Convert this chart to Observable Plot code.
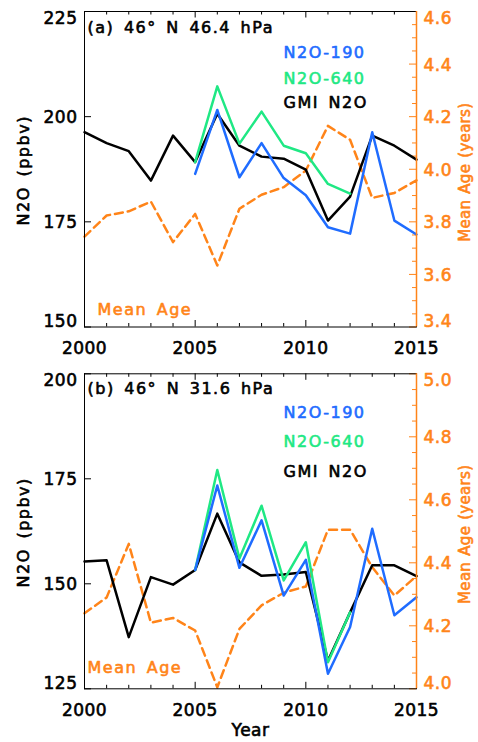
<!DOCTYPE html>
<html>
<head>
<meta charset="utf-8">
<script src="https://cdn.jsdelivr.net/npm/d3@7"></script>
<script src="https://cdn.jsdelivr.net/npm/@observablehq/plot@0.6"></script>
<style>
  body { margin: 0; background: #fff; }
  #chart { width: 478px; }
  #chart svg { display: block; overflow: visible; }
  #chart g[font-size="17"] text { letter-spacing: 0.5px; }
  #chart g[font-size="16"] text { letter-spacing: 1.5px; word-spacing: 3px; }
  #chart g[font-size="15"] text { letter-spacing: 0.3px; word-spacing: 1px; }
</style>
</head>
<body>
<div id="chart"></div>
<script>
// ---------- data ----------
const yearsAll = [2000, 2001, 2002, 2003, 2004, 2005, 2006, 2007, 2008, 2009, 2010, 2011, 2012, 2013, 2014, 2015];
const years190 = [2005, 2006, 2007, 2008, 2009, 2010, 2011, 2012, 2013, 2014, 2015];
const years640 = [2005, 2006, 2007, 2008, 2009, 2010, 2011, 2012];

// Panel (a) 46N 46.4 hPa
const gmiA  = [196.3, 193.7, 191.8, 184.8, 195.5, 189.2, 200.7, 193.1, 190.5, 190.0, 187.4, 175.3, 181.0, 195.5, 193.1, 189.8];
const n190A = [186.4, 201.6, 185.6, 193.7, 185.4, 181.3, 173.7, 172.2, 196.3, 175.3, 172.0];
const n640A = [189.2, 207.2, 193.6, 201.2, 193.1, 191.3, 184.0, 181.7];
const ageA  = [3.744, 3.824, 3.840, 3.877, 3.723, 3.830, 3.634, 3.850, 3.903, 3.932, 3.995, 4.165, 4.112, 3.891, 3.910, 3.958];

// Panel (b) 46N 31.6 hPa
const gmiB  = [155.3, 155.6, 137.3, 151.6, 149.8, 153.3, 166.7, 155.1, 151.9, 152.2, 152.8, 131.7, 143.2, 154.4, 154.4, 151.8];
const n190B = [153.3, 173.4, 153.8, 165.1, 147.2, 155.7, 128.6, 139.7, 163.1, 142.5, 146.8];
const n640B = [153.3, 177.1, 156.0, 168.6, 150.8, 159.9, 131.3, 143.2];
const ageB  = [4.240, 4.290, 4.460, 4.210, 4.225, 4.185, 4.005, 4.190, 4.265, 4.305, 4.325, 4.505, 4.505, 4.386, 4.296, 4.358];

// ticks
const xMajorTicks = [2000, 2005, 2010, 2015];
const xMinorTicks = [2001, 2002, 2003, 2004, 2006, 2007, 2008, 2009, 2011, 2012, 2013, 2014];
const yTicksA = [150, 175, 200, 225];
const ageTicksA = [3.4, 3.6, 3.8, 4.0, 4.2, 4.4, 4.6];
const ageMinorA = [3.45, 3.5, 3.55, 3.65, 3.7, 3.75, 3.85, 3.9, 3.95, 4.05, 4.1, 4.15, 4.25, 4.3, 4.35, 4.45, 4.5, 4.55];
const yTicksB = [125, 150, 175, 200];
const ageTicksB = [4.0, 4.2, 4.4, 4.6, 4.8, 5.0];
const ageMinorB = [4.05, 4.1, 4.15, 4.25, 4.3, 4.35, 4.45, 4.5, 4.55, 4.65, 4.7, 4.75, 4.85, 4.9, 4.95];

// labels
const titleA = "(a) 46° N 46.4 hPa";
const titleB = "(b) 46° N 31.6 hPa";
const legendLabels = ["N2O-190", "N2O-640", "GMI N2O"];
const yLabel = "N2O (ppbv)";
const ageLabel = "Mean Age (years)";
const ageNote = "Mean Age";
const xLabel = "Year";

// colours
const ORANGE = "#ff8419";
const BLUE = "#1f6cff";
const GREEN = "#1fe884";
const BLACK = "#000000";

function panel(cfg) {
  const W = 478, mL = 84, mR = 62;
  const plotW = W - mL - mR;
  const plotH = cfg.height - cfg.marginTop - cfg.marginBottom;
  const [y0, y1] = cfg.yDom, [a0, a1] = cfg.ageDom;
  const toY = a => y0 + (a - a0) / (a1 - a0) * (y1 - y0);
  const fmtAge = a => a.toFixed(1);
  const TS = 0.6; // text emboldening stroke

  const zip = (xs, ys) => xs.map((x, i) => ({x, y: ys[i]}));
  const ageData = yearsAll.map((x, i) => ({x, y: toY(cfg.age[i])}));

  const yT = cfg.yTicks, aT = cfg.ageTicks;
  const yInner = yT.slice(1, -1), aInner = aT.slice(1, -1);
  const txt = (data, opts, col) => Plot.text(data, {...opts, fill: col, stroke: col, strokeWidth: TS});

  const marks = [
    // ticks (inward)
    Plot.tickX(xMinorTicks, {x: d => d, insetTop: plotH - 3.5, stroke: BLACK}),
    Plot.tickX(xMinorTicks, {x: d => d, insetBottom: plotH - 3.5, stroke: BLACK}),
    Plot.tickX(xMajorTicks, {x: d => d, insetTop: plotH - 6.5, stroke: BLACK}),
    Plot.tickX(xMajorTicks, {x: d => d, insetBottom: plotH - 6.5, stroke: BLACK}),
    Plot.tickY(yT, {y: d => d, insetRight: plotW - 7, stroke: BLACK}),
    Plot.tickY(aT, {y: d => toY(d), insetLeft: plotW - 7, stroke: ORANGE}),
    Plot.tickY(cfg.ageMinor, {y: d => toY(d), insetLeft: plotW - 4, stroke: ORANGE}),
    // data
    Plot.line(ageData, {x: "x", y: "y", stroke: ORANGE, strokeWidth: 2.5, strokeDasharray: "8,5"}),
    Plot.line(zip(yearsAll, cfg.gmi), {x: "x", y: "y", stroke: BLACK, strokeWidth: 2.5}),
    Plot.line(zip(years640, cfg.n640), {x: "x", y: "y", stroke: GREEN, strokeWidth: 2.5}),
    Plot.line(zip(years190, cfg.n190), {x: "x", y: "y", stroke: BLUE, strokeWidth: 2.5}),
    // frame
    Plot.frame({stroke: BLACK, strokeWidth: 1}),
    Plot.ruleX([2015], {stroke: ORANGE, strokeWidth: 1.5}),
    // left tick labels
    txt(yInner, {y: d => d, frameAnchor: "left", dx: -7, dy: 1, textAnchor: "end", lineAnchor: "middle", text: d => String(d), fontSize: 17}, BLACK),
    txt([yT[yT.length - 1]], {y: d => d, frameAnchor: "left", dx: -7, dy: 7, textAnchor: "end", lineAnchor: "middle", text: d => String(d), fontSize: 17}, BLACK),
    txt([yT[0]], {y: d => d, frameAnchor: "left", dx: -7, dy: -5, textAnchor: "end", lineAnchor: "middle", text: d => String(d), fontSize: 17}, BLACK),
    // right tick labels
    txt(aInner, {y: d => toY(d), frameAnchor: "right", dx: 7, dy: 1, textAnchor: "start", lineAnchor: "middle", text: fmtAge, fontSize: 17}, ORANGE),
    txt([aT[aT.length - 1]], {y: d => toY(d), frameAnchor: "right", dx: 7, dy: 7, textAnchor: "start", lineAnchor: "middle", text: fmtAge, fontSize: 17}, ORANGE),
    txt([aT[0]], {y: d => toY(d), frameAnchor: "right", dx: 7, dy: -5, textAnchor: "start", lineAnchor: "middle", text: fmtAge, fontSize: 17}, ORANGE),
    // x tick labels
    txt(xMajorTicks, {x: d => d, frameAnchor: "bottom", dy: 22, textAnchor: "middle", lineAnchor: "middle", text: d => String(d), fontSize: 17}, BLACK),
    // axis titles
    txt([yLabel], {frameAnchor: "left", dx: -61, dy: 1, rotate: -90, textAnchor: "middle", lineAnchor: "middle", fontSize: 16}, BLACK),
    txt([ageLabel], {frameAnchor: "right", dx: 49, dy: 3, rotate: -90, textAnchor: "middle", lineAnchor: "middle", fontSize: 15}, ORANGE),
    // title
    txt([cfg.title], {frameAnchor: "top-left", dx: 3, dy: cfg.titleDy, textAnchor: "start", lineAnchor: "middle", fontSize: 16}, BLACK),
    // legend
    txt([legendLabels[0]], {frameAnchor: "top-left", dx: 199, dy: cfg.legendDy[0], textAnchor: "start", lineAnchor: "middle", fontSize: 16}, BLUE),
    txt([legendLabels[1]], {frameAnchor: "top-left", dx: 199, dy: cfg.legendDy[1], textAnchor: "start", lineAnchor: "middle", fontSize: 16}, GREEN),
    txt([legendLabels[2]], {frameAnchor: "top-left", dx: 199, dy: cfg.legendDy[2], textAnchor: "start", lineAnchor: "middle", fontSize: 16}, BLACK),
    // mean age note
    txt([ageNote], {frameAnchor: "bottom-left", dx: cfg.noteDx, dy: cfg.noteDy, textAnchor: "start", lineAnchor: "middle", fontSize: 16}, ORANGE)
  ];
  if (cfg.showYear) {
    marks.push(txt([xLabel], {frameAnchor: "bottom", dy: 42, textAnchor: "middle", lineAnchor: "middle", fontSize: 17}, BLACK));
  }

  return Plot.plot({
    width: W,
    height: cfg.height,
    marginLeft: mL,
    marginRight: mR,
    marginTop: cfg.marginTop,
    marginBottom: cfg.marginBottom,
    x: {domain: [2000, 2015], axis: null},
    y: {domain: cfg.yDom, axis: null},
    style: {fontFamily: "'DejaVu Sans', sans-serif", background: "white", overflow: "visible", color: "black"},
    marks
  });
}

const chart = document.getElementById("chart");
chart.appendChild(panel({
  height: 360, marginTop: 11, marginBottom: 33.5,
  yDom: [150, 225], ageDom: [3.4, 4.6],
  yTicks: yTicksA, ageTicks: ageTicksA, ageMinor: ageMinorA,
  gmi: gmiA, n190: n190A, n640: n640A, age: ageA,
  title: titleA, titleDy: 16, legendDy: [41, 67, 91],
  noteDx: 13, noteDy: -17.5, showYear: false
}));
chart.appendChild(panel({
  height: 382, marginTop: 13.3, marginBottom: 53.7,
  yDom: [125, 200], ageDom: [4.0, 5.0],
  yTicks: yTicksB, ageTicks: ageTicksB, ageMinor: ageMinorB,
  gmi: gmiB, n190: n190B, n640: n640B, age: ageB,
  title: titleB, titleDy: 15, legendDy: [39.5, 68.5, 98.5],
  noteDx: 3, noteDy: -21, showYear: true
}));
</script>
</body>
</html>
